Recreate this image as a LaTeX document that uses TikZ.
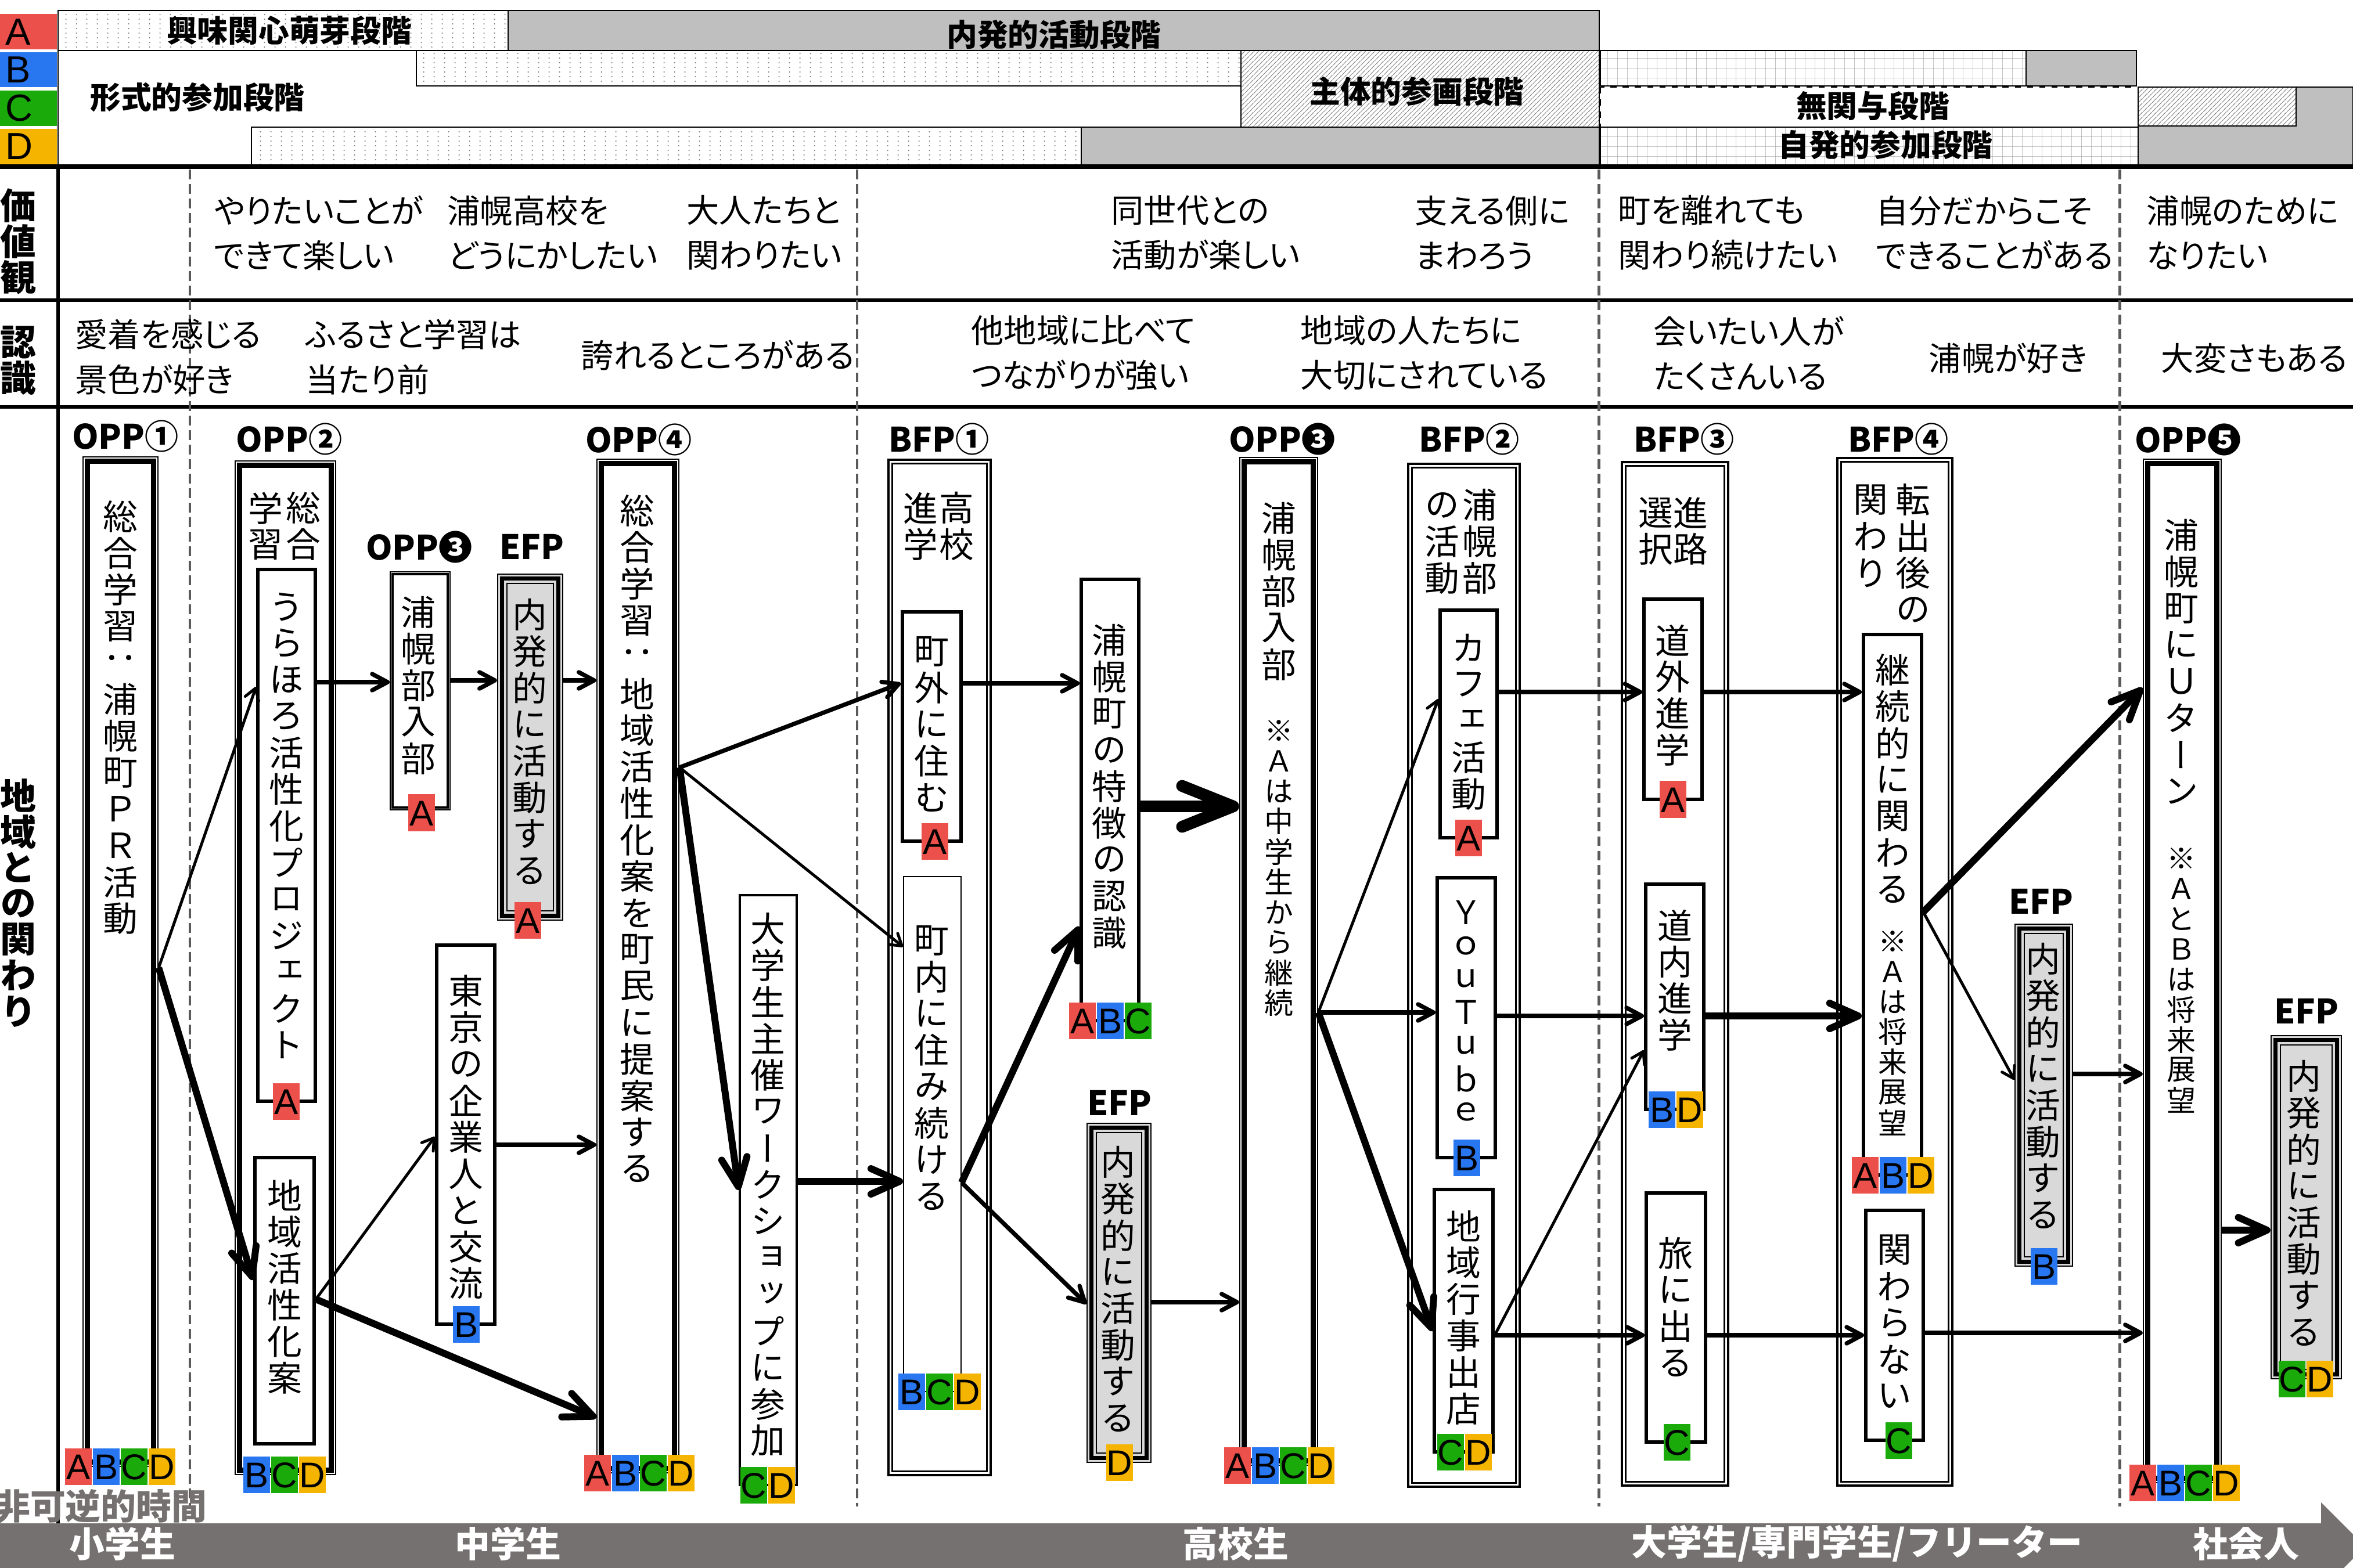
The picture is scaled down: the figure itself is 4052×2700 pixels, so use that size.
\documentclass[tikz,border=0pt]{standalone}
\usepackage{fontspec}
\setmainfont{Noto Sans CJK JP}
\newfontfamily\tatefont[RawFeature=+vert]{Noto Sans CJK JP}
\newfontfamily\yokofont[RawFeature=+palt]{Noto Sans CJK JP}
\newfontfamily\tagfont{Liberation Sans}
\usetikzlibrary{arrows.meta,fit,patterns.meta}

\definecolor{colA}{RGB}{236,80,75}
\definecolor{colB}{RGB}{40,118,240}
\definecolor{colC}{RGB}{26,170,10}
\definecolor{colD}{RGB}{245,180,0}
\definecolor{bandgray}{RGB}{191,191,191}
\definecolor{efpgray}{RGB}{217,217,217}
\definecolor{bargray}{RGB}{118,113,113}
\definecolor{dashgray}{RGB}{90,90,90}

% 縦書き: 1文字ずつ積む
\newdimen\vtpitch \vtpitch=17.9pt
\def\vtend{\vtend}
\def\vtloop#1{\ifx#1\vtend\else\vbox to\vtpitch{\vss\hbox to1em{\hss#1\hss}\vss}\expandafter\vtloop\fi}
\newcommand\vt[1]{\vtop{\offinterlineskip\vtloop#1\vtend}}

% 枠の内側の線
\newcommand\oppframe[1]{\draw[line width=2.6pt] ([shift={(9,9)}]#1.north west) rectangle ([shift={(-9,-9)}]#1.south east);}
\newcommand\bfpframe[1]{\draw[line width=0.8pt] ([shift={(8,8)}]#1.north west) rectangle ([shift={(-8,-8)}]#1.south east);}
\newcommand\efpframe[1]{\draw[line width=2pt] ([shift={(9,9)}]#1.north west) rectangle ([shift={(-9,-9)}]#1.south east);
  \draw[line width=0.6pt] ([shift={(17,17)}]#1.north west) rectangle ([shift={(-17,-17)}]#1.south east);}
% ABCDのラベル
\newcommand\tagrow[4]{\foreach \L [count=\i] in {#4}
  \node[tagbox, fill=col\L] (#1\L) at ({#2+(\i-1)*48},#3) {\L};}

\tikzdeclarepattern{
  name=stipple, type=uncolored,
  bottom left={(0pt,0pt)}, top right={(5pt,2.4pt)}, tile size={(5pt,2.4pt)},
  code={\fill (2.5pt,1.2pt) circle (0.35pt);}
}
\tikzdeclarepattern{
  name=finegrid, type=uncolored,
  bottom left={(0pt,0pt)}, top right={(4.8pt,4.8pt)}, tile size={(4.8pt,4.8pt)},
  code={\draw[line width=0.3pt] (0pt,0pt) -- (4.8pt,0pt) (0pt,0pt) -- (0pt,4.8pt);}
}
\tikzdeclarepattern{
  name=hatch, type=uncolored,
  bottom left={(0pt,0pt)}, top right={(2.2pt,2.2pt)}, tile size={(2.2pt,2.2pt)},
  code={\draw[line width=0.3pt] (0pt,0pt) -- (2.2pt,2.2pt);}
}

\begin{document}
\begin{tikzpicture}[x=0.01cm, y=-0.01cm,
  lab/.style={inner sep=0pt, font=\bfseries\fontsize{16.5pt}{16.5pt}\selectfont},
  band/.style={inner sep=0pt, font=\bfseries\fontsize{15pt}{15pt}\selectfont},
  bandlet/.style={anchor=west, inner sep=0pt, font=\tagfont\fontsize{18.5pt}{18.5pt}\selectfont},
  rowtxt/.style={anchor=west, align=left, inner sep=0pt, font=\yokofont\fontsize{16pt}{21.9pt}\selectfont},
  headv/.style={anchor=north, inner sep=0pt, font={\tatefont\bfseries\fontsize{17.6pt}{17.6pt}\selectfont\vtpitch=17.6pt\relax}},
  vtext/.style={anchor=north, inner sep=0pt, font={\tatefont\fontsize{17pt}{17.9pt}\selectfont\vtpitch=17.9pt\relax}},
  vlatin/.style={anchor=north, inner sep=0pt, font={\tatefont\fontsize{16pt}{16.3pt}\selectfont\vtpitch=16.3pt\relax}},
  vnote/.style={anchor=north, inner sep=0pt, font={\tatefont\fontsize{14.2pt}{14.8pt}\selectfont\vtpitch=14.8pt\relax}},
  bartxt/.style={inner sep=0pt, text=white, font=\bfseries\fontsize{17.3pt}{17.3pt}\selectfont},
  tagbox/.style={inner sep=0pt, minimum width=0.46cm, minimum height=0.63cm, text height=12.6pt, text depth=0pt, font=\tagfont\fontsize{17.5pt}{17.5pt}\selectfont},
  oppout/.style={draw, line width=0.7pt, fill=white, inner sep=0pt},
  bfpout/.style={draw, line width=1pt, fill=white, inner sep=0pt},
  efpout/.style={draw, line width=0.7pt, fill=efpgray, inner sep=0pt},
  itembox/.style={draw, line width=1.7pt, fill=white, inner sep=0pt},
  thinbox/.style={draw, line width=0.5pt, fill=white, inner sep=0pt},
  wsbox/.style={draw, line width=1pt, fill=white, inner sep=0pt},
  smallbox/.style={draw, line width=0.6pt, fill=white, inner sep=0pt},
  sepline/.style={dashgray, line width=1.4pt, dash pattern=on 4.8pt off 2.3pt},
  arrT/.style={line width=1.4pt, -{Straight Barb[round, length=5.5pt, width=7pt]}},
  arrM/.style={line width=2.1pt, -{Straight Barb[round, length=7.5pt, width=8pt]}},
  arrK/.style={line width=3.4pt, -{Straight Barb[round, length=14pt, width=12.5pt]}},
  arrX/.style={line width=5.8pt, -{Straight Barb[round, length=25pt, width=20pt]}}]

\useasboundingbox (0,0) rectangle (4052,2700);
\clip (0,0) rectangle (4052,2700);

% 凡例 A-D
\fill[colA] (0,24) rectangle (98,85);
\fill[colB] (0,90) rectangle (98,150);
\fill[colC] (0,156) rectangle (98,217);
\fill[colD] (0,222) rectangle (98,283);
\node[bandlet] (keyA) at (9,55) {A};
\node[bandlet] (keyB) at (9,120) {B};
\node[bandlet] (keyC) at (9,186) {C};
\node[bandlet] (keyD) at (9,252) {D};

% 段階の帯
\draw[line width=0.7pt, pattern=stipple, pattern color=gray] (100,18) rectangle (875,87);
\draw[line width=0.7pt, fill=bandgray] (875,18) rectangle (2754,87);
\draw[line width=0.7pt, fill=white] (100,87) -- (717,87) -- (717,148) -- (2137,148) -- (2137,219)
  -- (433,219) -- (433,285) -- (100,285) -- cycle;
\draw[line width=0.7pt, pattern=stipple, pattern color=gray] (717,87) rectangle (2137,148);
\draw[line width=0.7pt, pattern=hatch, pattern color=gray] (2137,87) rectangle (2754,219);
\draw[line width=0.7pt, pattern=stipple, pattern color=gray] (433,219) rectangle (1862,285);
\draw[line width=0.7pt, fill=bandgray] (1862,219) rectangle (2754,285);
\draw[line width=0.7pt, pattern=finegrid, pattern color=gray!70] (2756,87) rectangle (3489,148);
\draw[line width=0.7pt, fill=bandgray] (3489,87) rectangle (3679,148);
\draw[line width=0.7pt, dashed] (2756,150) rectangle (3682,219);
\draw[line width=0.7pt, pattern=finegrid, pattern color=gray!70] (2756,219) rectangle (3682,285);
\draw[line width=0.7pt, pattern=hatch, pattern color=gray] (3682,150) rectangle (3954,217);
\draw[line width=0.7pt, fill=bandgray] (3954,150) -- (4052,150) -- (4052,285) -- (3682,285) -- (3682,217) -- (3954,217) -- cycle;

\node[band] (st1) at (498,53) {興味関心萌芽段階};
\node[band] (st2) at (1815,60) {内発的活動段階};
\node[band] (st3) at (340,168) {形式的参加段階};
\node[band] (st4) at (2440,157) {主体的参画段階};
\node[band] (st5) at (3225,183) {無関与段階};
\node[band] (st6) at (3247,250) {自発的参加段階};

% 表の罫線
\draw[line width=2pt] (0,287) -- (4052,287);
\draw[line width=1.5pt] (0,517) -- (4052,517);
\draw[line width=1.5pt] (0,701) -- (4052,701);
\draw[line width=1.5pt] (100,287) -- (100,2624);
\foreach \x in {327,1476,2753,3650}
  \draw[sepline] (\x,292) -- (\x,2595);

% 見出し
\node[headv] (h1) at (31,322) {\vt{価値観}};
\node[headv] (h2) at (31,558) {\vt{認識}};
\node[headv] (h3) at (31,1339) {\vt{地域との関わり}};

% 価値観
\node[rowtxt] (v1) at (368,401) {やりたいことが\\できて楽しい};
\node[rowtxt] (v2) at (770,401) {浦幌高校を\\どうにかしたい};
\node[rowtxt] (v3) at (1182,401) {大人たちと\\関わりたい};
\node[rowtxt] (v4) at (1913,401) {同世代との\\活動が楽しい};
\node[rowtxt] (v5) at (2436,401) {支える側に\\まわろう};
\node[rowtxt] (v6) at (2786,401) {町を離れても\\関わり続けたい};
\node[rowtxt] (v7) at (3230,401) {自分だからこそ\\できることがある};
\node[rowtxt] (v8) at (3696,401) {浦幌のために\\なりたい};

% 認識
\node[rowtxt] (r1) at (129,615) {愛着を感じる\\景色が好き};
\node[rowtxt] (r2) at (526,615) {ふるさと学習は\\当たり前};
\node[rowtxt] (r3) at (1000,612) {誇れるところがある};
\node[rowtxt] (r4) at (1672,608) {他地域に比べて\\つながりが強い};
\node[rowtxt] (r5) at (2239,608) {地域の人たちに\\大切にされている};
\node[rowtxt] (r6) at (2847,609) {会いたい人が\\たくさんいる};
\node[rowtxt] (r7) at (3321,617) {浦幌が好き};
\node[rowtxt] (r8) at (3721,617) {大変さもある};

% 小学生
\node[lab] (opp1lab) at (216,751) {OPP①};
\node[oppout, fit={(143,787) (272,2526)}] (opp1) {};
\oppframe{opp1}
\node[vtext] (opp1txt) at (207,858) {\vt{総合学習：浦幌町ＰＲ活動}};
\tagrow{opp1t}{135}{2526}{A,B,C,D}

% 中学生
\node[lab] (opp2lab) at (498,756) {OPP②};
\node[oppout, fit={(405,794) (578,2540)}] (opp2) {};
\oppframe{opp2}
\node[vtext] (opp2txt) at (490,843) {\vt{学習}\kern1.5pt\vt{総合}};
\node[itembox, fit={(444,981) (543,1897)}] (ura) {};
\node[vtext] (uratxt) at (493,1013) {\vt{うらほろ活性化プロジェクト}};
\tagrow{urat}{493}{1897}{A}
\node[itembox, fit={(439,1994) (541,2487)}] (chiiki) {};
\node[vtext] (chiikitxt) at (490,2027) {\vt{地域活性化案}};
\tagrow{opp2t}{442}{2540}{B,C,D}

\node[lab] (opp3slab) at (722,942) {OPP❸};
\node[smallbox, fit={(672,985) (775,1395)}] (opp3s) {};
\draw[line width=1.2pt] ([shift={(5,5)}]opp3s.north west) rectangle ([shift={(-5,-5)}]opp3s.south east);
\node[vtext] (opp3stxt) at (720,1023) {\vt{浦幌部入部}};
\tagrow{opp3st}{726}{1400}{A}

\node[lab] (efp1lab) at (916,942) {EFP};
\node[efpout, fit={(857,989) (969,1585)}] (efp1) {};
\efpframe{efp1}
\node[vtext] (efp1txt) at (912,1027) {\vt{内発的に活動する}};
\tagrow{efp1t}{909}{1585}{A}

\node[itembox, fit={(752,1628) (852,2281)}] (tokyo) {};
\node[vtext] (tokyotxt) at (802,1675) {\vt{東京の企業人と交流}};
\tagrow{tokyot}{803}{2281}{B}

\node[lab] (opp4lab) at (1100,757) {OPP④};
\node[oppout, fit={(1028,791) (1169,2537)}] (opp4) {};
\oppframe{opp4}
\node[vtext] (opp4txt) at (1097,848) {\vt{総合学習：地域活性化案を町民に提案する}};
\tagrow{opp4t}{1029}{2537}{A,B,C,D}

\node[wsbox, fit={(1274,1542) (1372,2558)}] (ws) {};
\node[vtext] (wstxt) at (1322,1568) {\vt{大学生主催ワークショップに参加}};
\tagrow{wst}{1298}{2558}{C,D}

% 高校生
\node[lab] (bfp1lab) at (1617,756) {BFP①};
\node[bfpout, fit={(1530,792) (1706,2541)}] (bfp1) {};
\bfpframe{bfp1}
\node[vtext] (bfp1txt) at (1616,843) {\vt{進学}\kern0.6pt\vt{高校}};
\node[itembox, fit={(1554,1054) (1655,1449)}] (chogai) {};
\node[vtext] (chogaitxt) at (1604,1090) {\vt{町外に住む}};
\tagrow{chogait}{1610}{1449}{A}
\node[thinbox, fit={(1556,1510) (1655,2397)}] (chonai) {};
\node[vtext] (chonaitxt) at (1604,1588) {\vt{町内に住み続ける}};
\tagrow{chonait}{1570}{2397}{B,C,D}

\node[itembox, fit={(1862,998) (1961,1758)}] (tokucho) {};
\node[vtext] (tokuchotxt) at (1910,1071) {\vt{浦幌町の特徴の認識}};
\tagrow{tokuchot}{1864}{1758}{A,B,C}

\node[lab] (efp2lab) at (1928,1900) {EFP};
\node[efpout, fit={(1872,1935) (1982,2519)}] (efp2) {};
\efpframe{efp2}
\node[vtext] (efp2txt) at (1925,1970) {\vt{内発的に活動する}};
\tagrow{efp2t}{1928}{2519}{D}

\node[lab] (opp3lab) at (2208,756) {OPP❸};
\node[oppout, fit={(2135,788) (2269,2524)}] (opp3) {};
\oppframe{opp3}
\node[vtext] (opp3txt) at (2202,861) {\vt{浦幌部入部}};
\node[vnote] (opp3note) at (2202,1232) {\vt{※Ａは中学生から継続}};
\tagrow{opp3t}{2131}{2524}{A,B,C,D}

\node[lab] (bfp2lab) at (2530,756) {BFP②};
\node[bfpout, fit={(2425,799) (2617,2561)}] (bfp2) {};
\bfpframe{bfp2}
\node[vtext] (bfp2txt) at (2516,838) {\vt{の活動}\kern1.5pt\vt{浦幌部}};
\node[itembox, fit={(2480,1051) (2578,1443)}] (cafe) {};
\node[vtext] (cafetxt) at (2529,1084) {\vt{カフェ活動}};
\tagrow{cafet}{2529}{1443}{A}
\node[itembox, fit={(2475,1512) (2575,1994)}] (yt) {};
\node[vlatin] (yttxt) at (2525,1542) {\vt{ＹｏｕＴｕｂｅ}};
\tagrow{ytt}{2526}{1994}{B}
\node[itembox, fit={(2470,2049) (2571,2501)}] (gyoji) {};
\node[vtext] (gyojitxt) at (2520,2080) {\vt{地域行事出店}};
\tagrow{gyojit}{2498}{2501}{C,D}

% 大学生など
\node[lab] (bfp3lab) at (2900,756) {BFP③};
\node[bfpout, fit={(2793,796) (2976,2559)}] (bfp3) {};
\bfpframe{bfp3}
\node[vtext] (bfp3txt) at (2881,851) {\vt{選択}\vt{進路}};
\node[itembox, fit={(2831,1032) (2931,1377)}] (dogai) {};
\node[vtext] (dogaitxt) at (2880,1071) {\vt{道外進学}};
\tagrow{dogait}{2881}{1377}{A}
\node[itembox, fit={(2834,1523) (2934,1911)}] (donai) {};
\node[vtext] (donaitxt) at (2884,1562) {\vt{道内進学}};
\tagrow{donait}{2862}{1911}{B,D}
\node[itembox, fit={(2835,2055) (2937,2484)}] (tabi) {};
\node[vtext] (tabitxt) at (2885,2127) {\vt{旅に出る}};
\tagrow{tabit}{2888}{2484}{C}

\node[lab] (bfp4lab) at (3269,756) {BFP④};
\node[bfpout, fit={(3164,789) (3362,2559)}] (bfp4) {};
\bfpframe{bfp4}
\node[vtext] (bfp4txt) at (3258,829) {\vt{関わり}\kern3.7pt\vt{転出後の}};
\node[itembox, fit={(3209,1093) (3309,2024)}] (keizoku) {};
\node[vtext] (keizokutxt) at (3259,1122) {\vt{継続的に関わる}};
\node[vnote] (keizokunote) at (3259,1595) {\vt{※Ａは将来展望}};
\tagrow{keizokut}{3212}{2024}{A,B,D}
\node[itembox, fit={(3213,2085) (3312,2481)}] (kakawaranai) {};
\node[vtext] (kakawaranaitxt) at (3262,2121) {\vt{関わらない}};
\tagrow{kakawaranait}{3270}{2481}{C}

\node[lab] (efp3lab) at (3515,1553) {EFP};
\node[efpout, fit={(3470,1592) (3569,2181)}] (efp3) {};
\efpframe{efp3}
\node[vtext] (efp3txt) at (3518,1620) {\vt{内発的に活動する}};
\tagrow{efp3t}{3520}{2181}{B}

% 社会人
\node[lab] (opp5lab) at (3768,757) {OPP❺};
\node[oppout, fit={(3691,791) (3825,2554)}] (opp5) {};
\oppframe{opp5}
\node[vtext] (opp5txt) at (3756,890) {\vt{浦幌町にＵターン}};
\node[vnote] (opp5note) at (3756,1452) {\vt{※ＡとＢは将来展望}};
\tagrow{opp5t}{3690}{2554}{A,B,C,D}

\node[lab] (efp4lab) at (3972,1742) {EFP};
\node[efpout, fit={(3911,1784) (4032,2375)}] (efp4) {};
\efpframe{efp4}
\node[vtext] (efp4txt) at (3967,1822) {\vt{内発的に活動する}};
\tagrow{efp4t}{3947}{2375}{C,D}

% 矢印
\draw[arrT] (opp1.east |- 0,1667) -- (ura.west |- 0,1183);
\draw[arrK] (opp1.east |- 0,1667) -- (chiiki.west |- 0,2205);
\draw[arrM] (ura.east |- 0,1175) -- (opp3s.west |- 0,1175);
\draw[arrM] (opp3s.east |- 0,1172) -- (efp1.west |- 0,1172);
\draw[arrM] (efp1.east |- 0,1172) -- (opp4.west |- 0,1172);
\draw[arrT] (chiiki.east |- 0,2238) -- (tokyo.west |- 0,1958);
\draw[arrK] (chiiki.east |- 0,2238) -- (opp4.west |- 0,2442);
\draw[arrM] (tokyo.east |- 0,1972) -- (opp4.west |- 0,1972);
\draw[arrM] (opp4.east |- 0,1322) -- (chogai.west |- 0,1177);
\draw[arrT] (opp4.east |- 0,1322) -- (chonai.west |- 0,1631);
\draw[arrK] (opp4.east |- 0,1322) -- (ws.west |- 0,2050);
\draw[arrK] (ws.east |- 0,2035) -- (chonai.west |- 0,2035);
\draw[arrM] (chogai.east |- 0,1177) -- (tokucho.west |- 0,1177);
\draw[arrK] (chonai.east |- 0,2037) -- (tokucho.west |- 0,1596);
\draw[arrM] (chonai.east |- 0,2037) -- (efp2.west |- 0,2246);
\draw[arrX] (tokucho.east |- 0,1389) -- (opp3.west |- 0,1389);
\draw[arrM] (efp2.east |- 0,2243) -- (opp3.west |- 0,2243);
\draw[arrT] (opp3.east |- 0,1744) -- (cafe.west |- 0,1204);
\draw[arrM] (opp3.east |- 0,1744) -- (yt.west |- 0,1744);
\draw[arrK] (opp3.east |- 0,1744) -- (gyoji.west |- 0,2293);
\draw[arrM] (cafe.east |- 0,1192) -- (dogai.west |- 0,1192);
\draw[arrM] (yt.east |- 0,1750) -- (donai.west |- 0,1750);
\draw[arrM] (gyoji.east |- 0,2300) -- (tabi.west |- 0,2300);
\draw[arrT] (gyoji.east |- 0,2300) -- (donai.west |- 0,1809);
\draw[arrM] (dogai.east |- 0,1192) -- (keizoku.west |- 0,1192);
\draw[arrK] (donai.east |- 0,1750) -- (keizoku.west |- 0,1750);
\draw[arrM] (tabi.east |- 0,2300) -- (kakawaranai.west |- 0,2300);
\draw[arrK] (keizoku.east |- 0,1571) -- (opp5.west |- 0,1185);
\draw[arrT] (keizoku.east |- 0,1571) -- (efp3.west |- 0,1860);
\draw[arrM] (efp3.east |- 0,1850) -- (opp5.west |- 0,1850);
\draw[arrM] (kakawaranai.east |- 0,2296) -- (opp5.west |- 0,2296);
\draw[arrK] (opp5.east |- 0,2119) -- (efp4.west |- 0,2119);

% 時間軸
\fill[bargray] (0,2624) -- (3997,2624) -- (3997,2588) -- (4073,2664) -- (3997,2740) -- (3997,2705) -- (0,2705) -- cycle;
\node[anchor=east, inner sep=0pt, text=bargray, font=\bfseries\fontsize{17.3pt}{17.3pt}\selectfont] (jikan) at (357,2595) {非可逆的時間};
\node[bartxt] (b1) at (211,2659) {小学生};
\node[bartxt] (b2) at (875,2659) {中学生};
\node[bartxt] (b3) at (2128,2659) {高校生};
\node[bartxt] (b4) at (3198,2659) {大学生/専門学生/フリーター};
\node[bartxt] (b5) at (3868,2659) {社会人};
\end{tikzpicture}
\end{document}
